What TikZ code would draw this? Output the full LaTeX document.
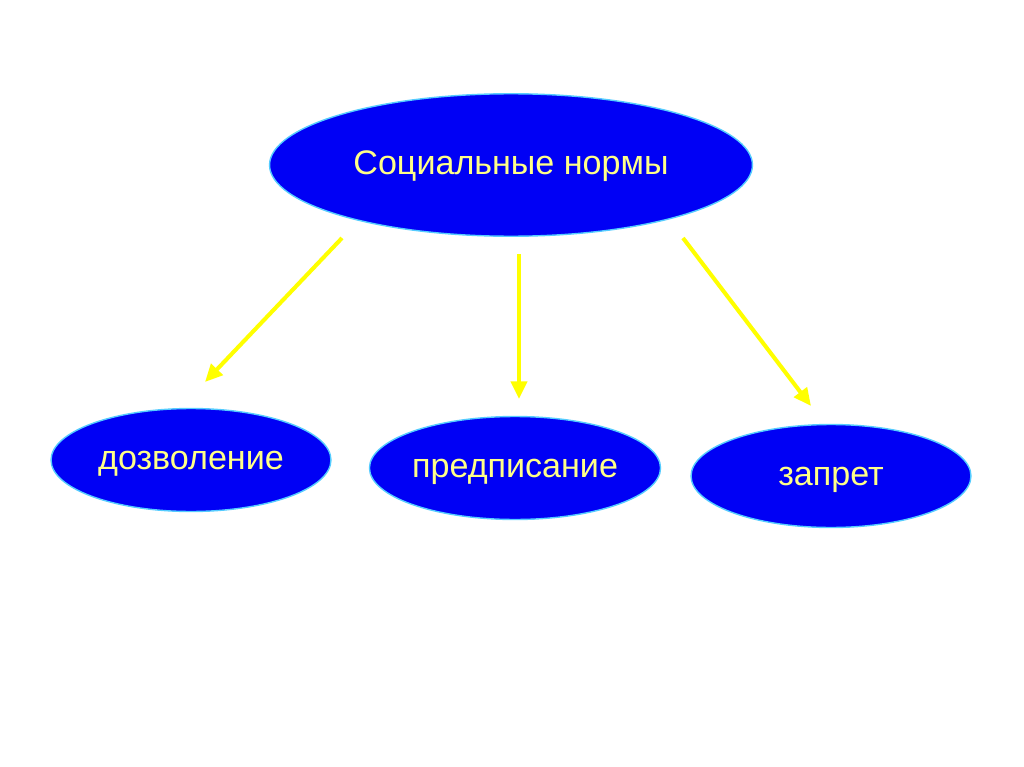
\documentclass[tikz,border=0pt]{standalone}
\usepackage{fontspec}
\setmainfont{Liberation Sans}
\usepackage{tikz}
\usetikzlibrary{positioning, arrows.meta, shapes.geometric}

\definecolor{normblue}{HTML}{0000F5}
\definecolor{normrim}{HTML}{55CCFF}
\definecolor{normtext}{HTML}{FFFF88}
\definecolor{normarrow}{HTML}{FFFF00}

\begin{document}
\begin{tikzpicture}[x=0.02cm, y=-0.02cm,
    norm/.style={ellipse, draw=normrim, line width=0.8pt, fill=normblue, text=normtext,
        inner sep=0pt, text height=1.1em, text depth=0pt,
        font=\fontsize{19.4}{23}\selectfont},
    big/.style={norm, minimum width=9.66cm, minimum height=2.85cm},
    small/.style={norm, minimum width=5.6cm, minimum height=2.06cm},
    link/.style={-{Triangle[length=10pt, width=9pt]}, normarrow, line width=2.3pt}]
    \useasboundingbox [fill=white] (0,0) rectangle (1024,767);
    % Main oval
    \node [big] (norms) at (511,165) {Социальные нормы};
    % Three kinds
    \node [small] (allow) at (191,460) {дозволение};
    \node [small] (order) at (515,468) {предписание};
    \node [small] (ban) at (831,476) {запрет};
    % Arrow ends
    \coordinate (a1) at (342,238);
    \coordinate (b1) at (205,382);
    \coordinate (a2) at (519,254);
    \coordinate (b2) at (519,399);
    \coordinate (a3) at (683,238);
    \coordinate (b3) at (811,406);
    % Arrows
    \draw [link] (a1) -- (b1);
    \draw [link] (a2) -- (b2);
    \draw [link] (a3) -- (b3);
\end{tikzpicture}
\end{document}
